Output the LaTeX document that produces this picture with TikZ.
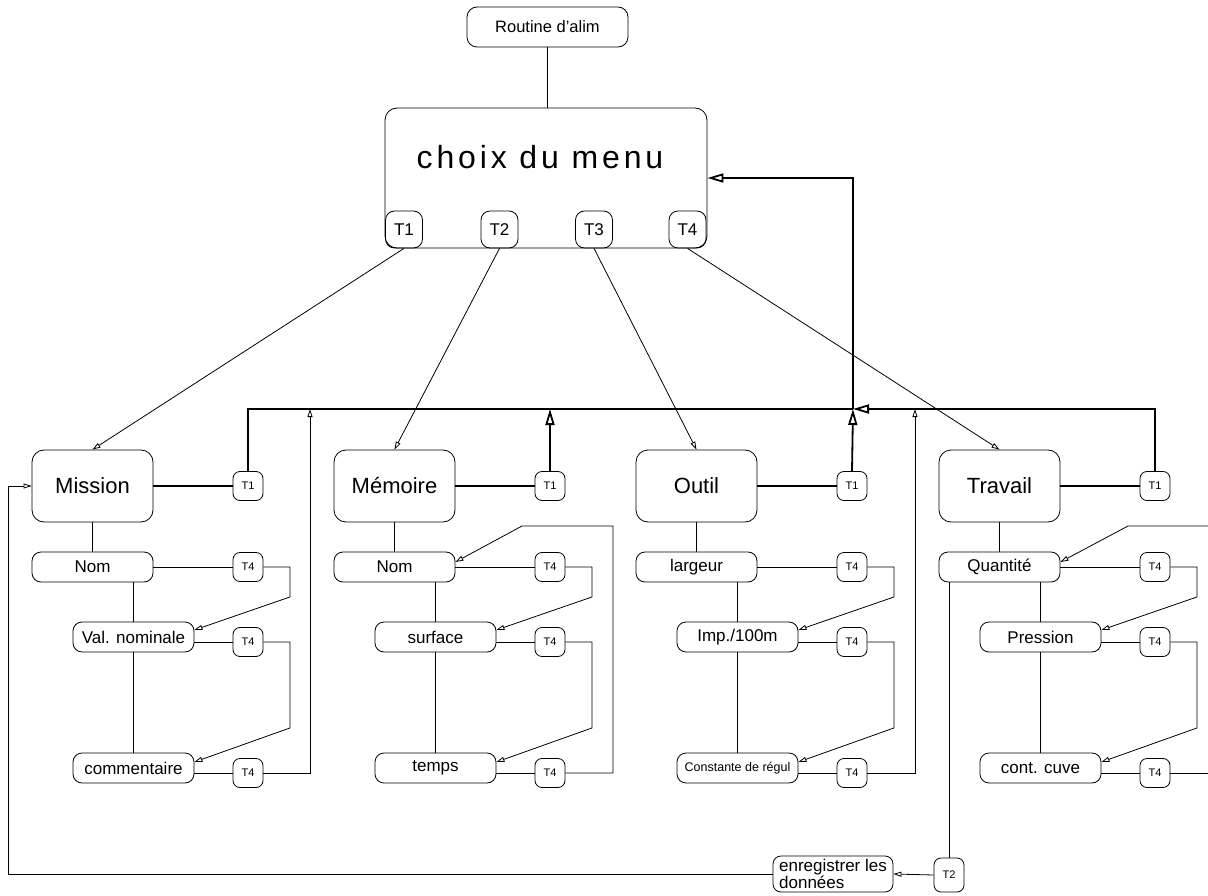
\documentclass[tikz,border=0pt]{standalone}
\usepackage{fontspec}
\setmainfont{Liberation Sans}
\usetikzlibrary{arrows.meta,calc}
\tikzset{
  bigtri/.tip={Triangle[open,length=16pt,width=9pt]},
  smtri/.tip={Triangle[open,length=8pt,width=5pt]},
  bx/.style={draw=black, line width=0.8pt, inner sep=0pt},
  mainbox/.style={bx, minimum width=121pt, minimum height=72pt, rounded corners=12pt, font=\fontsize{22}{24}\selectfont},
  subbox/.style={bx, minimum width=121pt, minimum height=30pt, rounded corners=9pt, font=\fontsize{17}{19}\selectfont},
  tbox/.style={bx, minimum width=30pt, minimum height=29pt, rounded corners=7pt, font=\fontsize{11}{12}\selectfont},
  menut/.style={bx, minimum width=37pt, minimum height=37pt, rounded corners=9pt, font=\fontsize{17}{18}\selectfont},
  thk/.style={line width=1.8pt},
  med/.style={line width=1.4pt},
  thn/.style={line width=0.8pt},
}
\begin{document}
\begin{tikzpicture}[x=1pt,y=-1pt]
\useasboundingbox (0,0) rectangle (1208,896);
% top
\node[bx, minimum width=161pt, minimum height=40pt, rounded corners=10pt, font=\fontsize{16.5}{18}\selectfont] (R) at (547.5,27) {Routine d'alim};
\node[bx, minimum width=322pt, minimum height=140pt, rounded corners=12pt] (C) at (546,178) {};
\node[font=\fontsize{32}{34}\selectfont\addfontfeature{LetterSpace=12}] (Ctxt) at (540,157) {choix du menu};
\node[menut] (T1) at (404,229.5) {T1};
\node[menut] (T2) at (499.5,229.5) {T2};
\node[menut] (T3) at (594,229.5) {T3};
\node[menut] (T4) at (687.5,229.5) {T4};
\draw[thn] (R.south) -- (R.south |- C.north);

% main boxes
\node[mainbox] (M) at (92.5,486) {Mission};
\node[mainbox] (E) at (394.5,486) {Mémoire};
\node[mainbox] (O) at (696.5,486) {Outil};
\node[mainbox] (W) at (999.5,486) {Travail};

% sub boxes
\node[subbox] (Ma) at (92.5,567) {Nom};
\node[subbox] (Mb) at (133.5,637) {Val. nominale};
\node[subbox] (Mc) at (133.5,768) {commentaire};
\node[subbox] (Ea) at (394.5,567) {Nom};
\node[subbox] (Eb) at (435.5,637) {surface};
\node[subbox] (Ec) at (435.5,768) {temps};
\node[subbox] (Oa) at (696.5,567) {largeur};
\node[subbox] (Ob) at (737.5,637) {Imp./100m};
\node[subbox, font=\fontsize{12.5}{14}\selectfont] (Oc) at (737.5,768) {Constante de régul};
\node[subbox] (Wa) at (999.5,567) {Quantité};
\node[subbox] (Wb) at (1040.5,637) {Pression};
\node[subbox] (Wc) at (1040.5,768) {cont. cuve};

% T boxes
\foreach \i/\cx in {M/92.5,E/394.5,O/696.5,W/999.5}{
  \node[tbox] (\i t) at (\cx+155.5,486) {T1};
  \node[tbox] (\i p) at (\cx+155.5,567) {T4};
  \node[tbox] (\i q) at (\cx+155.5,642) {T4};
  \node[tbox] (\i r) at (\cx+155.5,773) {T4};
  \draw[thk] (\i.east) -- (\i t.west);
  \draw[med] (\i.south) -- (\i a.north);
  \draw[med] (\i b.north) -- (\i b.north |- \i a.south);
  \draw[thn] (\i c.north) -- (\i c.north |- \i b.south);
  \draw[thn] (\i p.west) -- (\i p.west -| \i a.east);
  \draw[thn] (\i q.west) -- (\i q.west -| \i b.east);
  \draw[thn] (\i r.west) -- (\i r.west -| \i c.east);
  \draw[thn,-{smtri}] (\i p.east) -- ++(26.5,0) -- ++(0,30) -- ([yshift=7pt]\i b.east);
  \draw[thn,-{smtri}] (\i q.east) -- ++(26.5,0) -- ++(0,86) -- ([yshift=6pt]\i c.east);
}

% menu arrows
\draw[thn,-{smtri}] (T1.south) -- (M.north);
\draw[thn,-{smtri}] (T2.south) -- (E.north);
\draw[thn,-{smtri}] (T3.south) -- (O.north);
\draw[thn,-{smtri}] (T4.south) -- (W.north);

% bus
\coordinate (busJ) at (853,409);
\coordinate (ret) at (853,178);
\draw[thk] (Mt.north) |- (busJ);
\draw[thk,-{bigtri}] (Wt.north) |- (busJ);
\draw[thk,-{bigtri}] (Et.north) -- (Et.north |- busJ);
\draw[thk,-{bigtri}] (Ot.north) -- (busJ);
\draw[thk,-{bigtri}] (busJ) -- (ret) -- (ret -| C.east);

% last T4 returns
\draw[thn,-{smtri}] (Mr.east) -| (310,409);
\draw[thn,-{smtri}] (Or.east) -| (915,409);
\draw[thn,-{smtri}] (Er.east) -| (613,526) -- (522,526) -- ([yshift=5pt]Ea.east);
\coordinate (edgeA) at (1208,773);
\coordinate (edgeB) at (1208,526);
\draw[thn] (Wr.east) -- (edgeA);
\draw[thn,-{smtri}] (edgeB) -- (1128,526) -- ([yshift=5pt]Wa.east);

% save
\node[tbox, minimum height=34pt, font=\fontsize{11}{12}\selectfont] (S2) at (949,875) {T2};
\node[bx, minimum width=120pt, minimum height=36pt, rounded corners=8pt, align=left, font=\fontsize{17}{15}\selectfont] (S) at (833,874) {enregistrer les\\données};
\draw[thn] (S2.north) -- (S2.north |- Wa.south);
\draw[thn,-{smtri}] (S2.west) -- (S.east);
\draw[thn,-{smtri}] (S.west) -| (8,486) -- (M.west);
\end{tikzpicture}
\end{document}
